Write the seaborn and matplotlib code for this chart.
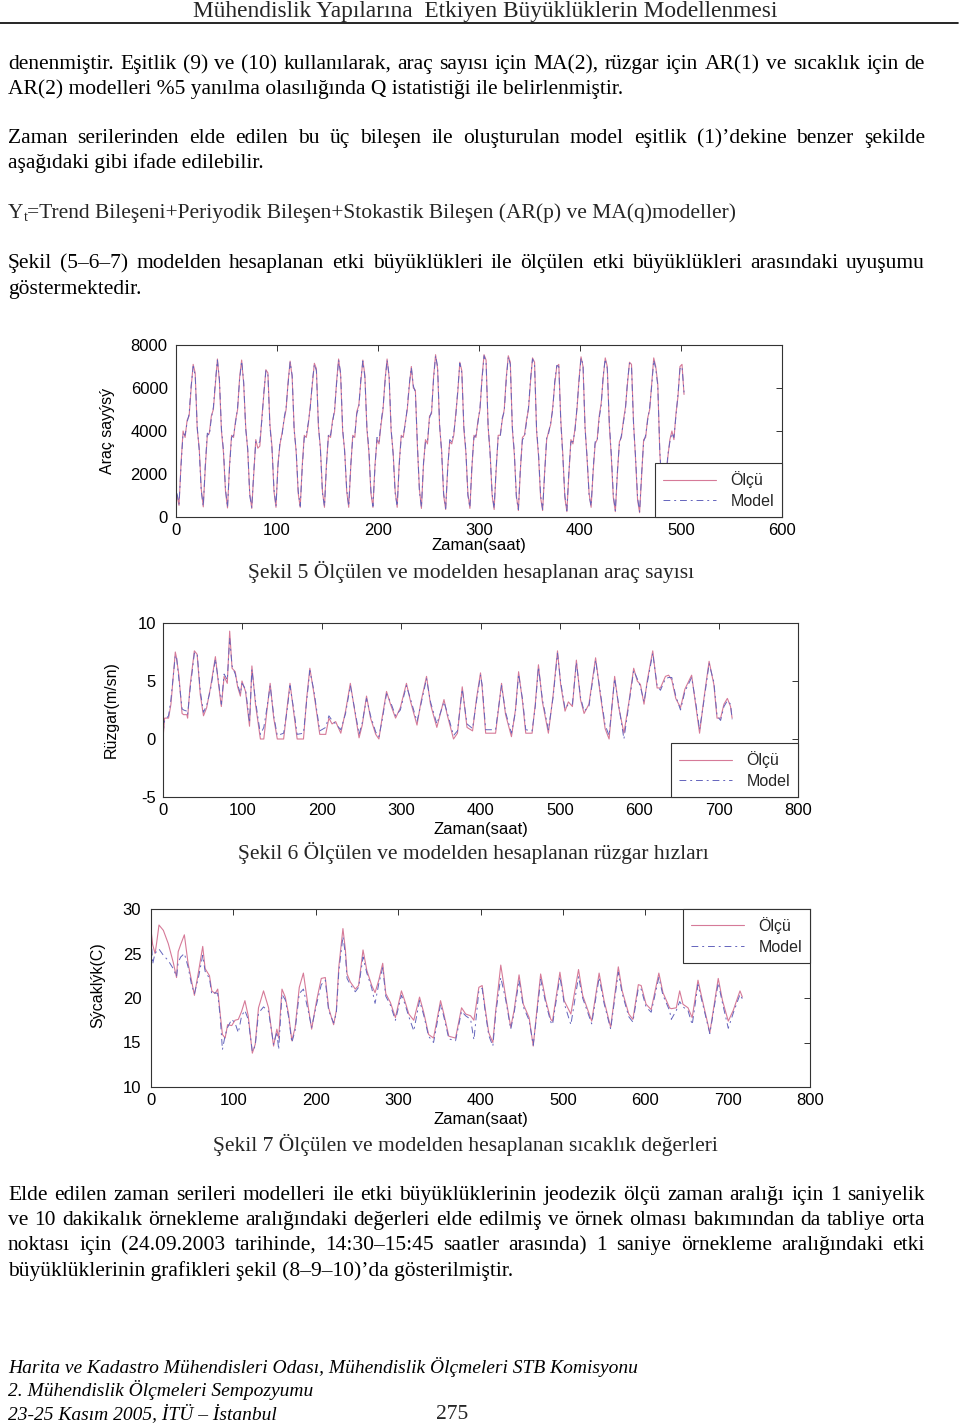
import numpy as np
import pandas as pd
import matplotlib
matplotlib.use("Agg")
import matplotlib.pyplot as plt
import seaborn as sns

# ---------------- data read from the page ----------------
# Sekil 5: vehicle count, sampled every 2 h (hours 1, 3, ..., 503), one row per day
traffic_hours = np.arange(1, 504, 2)
traffic_measured = [
    1000, 540, 2500, 4000, 3700, 4500, 4700, 6000, 7100, 6700, 4100, 3200,
    1300, 470, 2300, 3800, 3900, 4700, 5000, 6200, 7350, 6300, 4000, 3000,
    1200, 420, 2400, 3800, 3700, 4500, 5000, 6500, 7300, 6200, 4200, 3100,
    1100, 400, 2000, 3600, 3200, 3300, 4600, 5700, 6850, 6700, 4300, 3300,
    1200, 450, 2500, 3400, 3900, 4500, 5000, 6300, 7250, 6500, 4100, 3000,
    1100, 450, 2400, 3800, 3700, 4300, 5200, 6200, 7150, 6900, 4200, 3200,
    1200, 450, 2500, 3800, 3700, 4500, 4900, 6300, 7350, 6600, 4000, 3100,
    1200, 450, 2300, 3800, 3700, 4900, 5200, 6300, 7300, 6600, 4100, 3000,
    1100, 450, 2400, 3600, 3400, 4300, 5000, 6400, 7350, 6500, 4000, 3000,
    1200, 450, 2500, 3800, 3700, 4400, 5000, 6100, 7000, 6000, 5900, 3300,
    1300, 400, 2400, 3600, 3400, 4700, 4800, 6500, 7550, 6900, 4200, 3100,
    1000, 350, 2300, 3500, 3400, 3800, 4800, 5800, 7200, 6800, 4100, 3000,
    1100, 400, 2300, 3800, 3700, 4500, 5000, 6500, 7550, 7300, 4200, 3000,
    1000, 350, 2200, 3800, 3800, 4500, 5000, 6500, 7500, 7200, 4100, 2900,
    1000, 300, 2200, 3700, 3800, 4500, 5000, 6300, 7400, 7200, 4000, 2800,
    900, 300, 2100, 3600, 4000, 4300, 5100, 6200, 7000, 7100, 4500, 2900,
    900, 250, 2000, 3600, 3400, 4100, 5000, 6400, 7450, 7000, 4200, 2700,
    1100, 450, 2100, 3400, 3600, 4700, 5300, 6500, 7400, 7000, 4300, 2800,
    900, 250, 2000, 3500, 3700, 4500, 5100, 6200, 7200, 7100, 4400, 2700,
    800, 200, 1900, 3600, 3700, 4600, 5000, 6200, 7400, 7000, 6200, 3000,
    1500, 600, 1700, 2800, 3600, 4000, 3600, 4800, 5600, 7000, 7100, 5700,
]
traffic_model = [
    1100, 600, 2400, 3900, 3800, 4400, 4800, 6100, 7000, 6600, 4200, 3100,
    1200, 500, 2400, 3900, 3800, 4600, 5100, 6300, 7300, 6400, 4100, 3100,
    1300, 450, 2300, 3700, 3800, 4400, 5100, 6400, 7250, 6300, 4100, 3200,
    1000, 450, 2100, 3500, 3400, 3500, 4500, 5800, 6800, 6600, 4200, 3200,
    1300, 500, 2400, 3500, 3800, 4600, 5100, 6200, 7200, 6600, 4000, 3100,
    1200, 500, 2300, 3700, 3800, 4400, 5100, 6300, 7100, 6800, 4300, 3100,
    1100, 500, 2400, 3900, 3800, 4400, 5000, 6200, 7300, 6700, 4100, 3000,
    1300, 500, 2400, 3700, 3800, 4800, 5100, 6400, 7250, 6500, 4200, 3100,
    1200, 500, 2300, 3700, 3500, 4400, 5100, 6300, 7300, 6600, 4100, 2900,
    1100, 500, 2400, 3700, 3800, 4300, 5100, 6200, 6950, 6100, 5800, 3400,
    1200, 450, 2500, 3500, 3500, 4600, 4900, 6400, 7500, 7000, 4300, 3000,
    1100, 400, 2200, 3600, 3500, 3900, 4700, 5900, 7150, 6700, 4200, 3100,
    1000, 450, 2400, 3700, 3800, 4400, 5100, 6400, 7500, 7200, 4300, 2900,
    1100, 400, 2300, 3700, 3700, 4600, 4900, 6400, 7450, 7100, 4200, 3000,
    900, 350, 2300, 3600, 3700, 4400, 5100, 6400, 7350, 7100, 4100, 2900,
    1000, 350, 2000, 3700, 3900, 4400, 5000, 6300, 7050, 7000, 4400, 2800,
    1000, 300, 2100, 3500, 3500, 4000, 5100, 6300, 7400, 7100, 4100, 2800,
    1000, 500, 2200, 3500, 3500, 4600, 5200, 6600, 7350, 6900, 4400, 2900,
    1000, 300, 2100, 3400, 3800, 4400, 5000, 6300, 7150, 7000, 4300, 2800,
    900, 250, 2000, 3500, 3800, 4500, 5100, 6100, 7300, 6900, 6100, 3100,
    1400, 650, 1800, 2900, 3500, 3900, 3700, 4700, 5700, 6900, 7000, 5800,
]

# Sekil 6: wind speed, key points (hour, m/s)
wind_hours = [
    0, 2, 7, 10, 15.5, 17, 20, 24, 26, 30, 31, 34, 39.5, 43, 47, 51, 55, 60, 66, 70,
    73.5, 77, 81, 84, 87, 91, 94, 97.5, 99.5, 104, 109, 112, 116.5, 122.7, 127, 131,
    135, 139.5, 144, 152, 156, 160, 165, 169, 177, 181, 185, 190, 197.5, 205, 209,
    213, 217.5, 224, 230, 236, 243, 247, 251, 256.4, 261.5, 268, 272, 276, 281.6,
    286.6, 293, 299, 306.7, 312, 320, 325, 332, 337, 345, 354, 358, 366, 371, 377,
    383, 390, 395, 400, 402, 406.5, 419, 426.5, 431.6, 439, 444, 448, 453, 457, 465,
    469, 473, 478, 485.5, 491.5, 497, 501, 506.5, 510.7, 515.8, 520.8, 526, 530.5,
    536.6, 545, 551, 557, 562, 569, 574, 580.7, 587, 593, 597.5, 601.5, 606, 610,
    617, 622.5, 626.7, 633, 637, 641, 646, 652, 657.5, 666, 671, 676, 681.5, 688,
    694, 698, 702.5, 706.7, 711, 715, 717,
]
wind_measured = [
    0.0, 1.8, 1.8, 3.0, 7.5, 7.0, 5.5, 2.2, 2.1, 2.1, 1.8, 4.5, 7.6, 7.3, 3.8, 2.0, 2.7, 4.5, 7.1, 4.7,
    2.8, 5.4, 4.8, 9.3, 6.1, 5.8, 4.5, 3.7, 5.0, 4.1, 1.1, 6.3, 3.0, 0.0, 0.0, 2.5,
    4.8, 1.8, 0.0, 0.0, 2.5, 4.8, 2.1, 0.0, 0.0, 3.5, 6.1, 4.0, 0.4, 0.4, 1.8,
    1.3, 1.5, 0.5, 2.4, 4.8, 1.8, 0.1, 1.2, 3.7, 1.8, 0.4, 0.0, 1.8, 4.1,
    3.0, 1.8, 2.7, 4.8, 3.2, 1.2, 3.2, 5.4, 3.0, 1.0, 3.4, 2.1, 0.0, 0.5, 4.5,
    1.0, 0.7, 3.5, 5.7, 4.5, 0.5, 0.5, 4.8, 2.1, 0.2, 2.5, 5.8, 3.2, 0.5, 0.5,
    3.0, 6.4, 3.2, 0.5, 3.8, 7.6, 4.7, 2.4, 3.2, 2.8, 6.8, 3.4, 2.2,
    3.0, 7.0, 3.8, 0.9, 0.0, 5.4, 2.8, 0.5, 3.2, 6.1, 5.0, 4.7, 3.0, 5.0,
    7.6, 4.4, 4.4, 5.4, 5.5, 5.1, 3.5, 2.7, 4.3, 5.5, 3.0, 0.5, 3.5, 6.7,
    4.7, 1.8, 1.8, 3.0, 3.5, 2.8, 1.8,
]
wind_model = [
    0.5, 1.6, 2.0, 3.4, 7.2, 7.1, 5.2, 2.6, 2.5, 2.4, 2.1, 4.2, 7.4, 7.4, 4.1, 2.3, 2.9, 4.3, 6.9, 4.9,
    3.0, 5.6, 5.1, 8.7, 6.3, 5.6, 4.7, 3.9, 4.8, 4.3, 1.4, 6.0, 3.3, 0.4, 1.0, 2.7,
    4.6, 2.0, 0.3, 0.5, 2.3, 4.6, 2.4, 0.4, 0.5, 3.3, 5.9, 4.2, 0.7, 1.0, 2.0,
    1.6, 1.3, 0.8, 2.2, 4.6, 2.0, 0.4, 1.4, 3.5, 2.0, 0.6, 0.2, 1.6, 3.9,
    3.2, 2.0, 2.5, 4.6, 3.4, 1.5, 3.0, 5.2, 3.2, 1.3, 3.2, 2.3, 0.3, 0.7, 4.3,
    1.3, 0.9, 3.3, 5.5, 4.7, 0.8, 0.8, 4.6, 2.3, 0.5, 2.3, 5.6, 3.4, 0.8, 0.7,
    2.8, 6.2, 3.4, 0.8, 3.6, 7.4, 4.9, 2.6, 3.0, 3.0, 6.6, 3.6, 2.4,
    2.8, 6.8, 4.0, 1.2, 0.3, 5.2, 3.0, 0.0, 3.0, 5.9, 5.2, 4.5, 3.2, 4.8,
    7.4, 4.6, 4.2, 5.2, 5.3, 5.3, 3.7, 2.5, 4.1, 5.3, 3.2, 0.8, 3.3, 6.5,
    4.9, 2.0, 1.6, 2.8, 3.3, 3.0, 1.7,
]

# Sekil 7: temperature, key points (hour, C)
temp_hours = [
    0, 2, 5, 7, 9.7, 15, 21, 27, 31, 33, 36, 40.5, 45, 49, 52.7, 57.6, 62.8, 65.7, 71, 73.8,
    77.8, 81, 84, 86.7, 90, 93, 98, 102, 106, 110, 114, 118, 123, 126.5, 130.5, 136.6,
    142.7, 148.8, 152.8, 155, 159, 163, 167, 171, 175, 180, 185, 191, 195, 201, 206.7,
    211.6, 215.6, 221.7, 225, 228, 233, 236, 238, 242, 248, 252, 257.4, 262, 268, 272,
    276.5, 281.3, 285, 290.6, 296.7, 304, 308, 313, 319, 326, 331, 337, 343, 351.5,
    355.5, 361.6, 369.7, 377, 382, 388, 392, 398, 402, 406, 410, 415, 418.5, 424.6,
    430.6, 436.7, 440.8, 446.8, 452, 459, 464, 468, 473, 479.3, 485.3, 487.4, 496.4,
    501.6, 509.7, 519, 524, 532, 535, 544, 550, 558, 567.3, 572, 580, 585, 591.6, 595,
    601, 607.2, 616.5, 621.5, 629.5, 631.6, 637.7, 641.8, 645.8, 651.9, 657, 664, 669.5,
    678.4, 688.6, 693.8, 700.8, 706.8, 715, 717.9,
]
temp_measured = [
    27.7, 26.0, 25.0, 26.3, 28.2, 27.6, 26.1, 24.0, 22.3, 25.2, 26.0, 27.1, 23.9, 22.0, 20.3, 22.9, 25.8, 23.3, 22.5, 20.8,
    20.5, 21.0, 18.2, 15.9, 15.5, 17.0, 16.9, 17.5, 17.6, 18.5, 19.7, 18.0, 13.8, 14.8, 18.9, 20.8,
    18.9, 14.6, 16.5, 15.5, 21.0, 20.1, 18.2, 15.2, 16.7, 21.2, 22.8, 18.9, 16.5, 19.7, 22.2,
    22.3, 18.9, 17.0, 18.6, 23.5, 27.8, 25.4, 22.7, 21.8, 21.0, 21.4, 25.4, 23.1, 21.4, 20.6,
    22.0, 23.9, 20.5, 19.5, 17.8, 20.8, 19.7, 18.2, 17.5, 20.1, 18.4, 15.9, 15.5, 19.7,
    18.2, 15.7, 15.5, 18.9, 18.2, 18.0, 17.5, 21.2, 21.4, 18.6, 16.1, 15.0, 18.6, 23.7,
    20.1, 16.7, 18.6, 22.6, 19.3, 17.8, 14.6, 18.2, 22.7, 19.7, 17.6, 17.4, 22.9,
    19.7, 18.2, 23.2, 20.3, 18.2, 17.4, 22.8, 19.7, 16.7, 23.5, 20.8, 18.2, 17.6, 21.5, 21.4,
    19.3, 18.7, 22.8, 20.6, 18.9, 18.8, 18.9, 20.8, 19.3, 18.9, 17.8, 22.0, 19.7,
    16.1, 22.2, 19.7, 17.4, 18.6, 20.8, 20.1,
]
temp_model = [
    27.4, 23.8, 25.1, 25.2, 25.5, 24.8, 24.2, 23.3, 22.4, 24.0, 24.6, 25.0, 23.5, 21.6, 20.5, 22.3, 24.8, 23.0, 22.2, 20.4,
    20.6, 20.5, 17.9, 14.2, 15.8, 16.7, 17.6, 17.2, 16.1, 18.0, 18.6, 17.6, 14.0, 14.6, 18.3, 19.0,
    18.5, 14.8, 16.2, 14.2, 20.4, 19.8, 17.9, 15.0, 16.4, 20.5, 21.0, 18.5, 16.7, 19.3, 21.5,
    22.0, 18.6, 17.2, 18.3, 23.0, 26.9, 24.9, 22.2, 21.5, 20.7, 21.2, 24.6, 22.8, 21.1, 19.4,
    21.6, 23.4, 20.2, 19.2, 17.5, 20.3, 19.4, 17.9, 16.3, 19.7, 18.1, 15.7, 15.0, 19.3,
    17.9, 15.4, 15.2, 18.5, 18.0, 17.6, 15.3, 20.8, 21.1, 18.3, 15.8, 14.6, 18.3, 22.3,
    19.8, 16.5, 18.3, 22.0, 19.0, 17.5, 14.7, 17.9, 22.1, 19.4, 17.3, 17.0, 22.4,
    19.4, 17.0, 22.4, 20.0, 17.9, 17.1, 22.3, 19.4, 16.5, 22.9, 20.5, 17.9, 17.3, 21.1, 21.0,
    19.0, 18.4, 22.3, 20.3, 18.6, 17.6, 18.6, 19.6, 19.0, 18.6, 17.0, 21.5, 19.4,
    16.0, 21.7, 19.4, 16.6, 18.3, 20.4, 19.9,
]

# ---------------- page ----------------
W, H = 960, 1427
sns.set_theme(style="white")
plt.rcParams["font.family"] = ["Liberation Sans", "DejaVu Sans"]
plt.rcParams["axes.linewidth"] = 0.8
plt.rcParams["axes.unicode_minus"] = False

fig = plt.figure(figsize=(W / 100, H / 100), dpi=100)
fig.patch.set_facecolor("white")
renderer = fig.canvas.get_renderer()

SERIF = ["Liberation Serif", "DejaVu Serif"]
BODY = 15.5
FOOT = 14.0
BASE = 6  # baseline sits this many px below the visual line centre


def fy(y):
    return 1 - y / H


def put_line(text, y, justify=False, x0=8, x1=925, size=BODY, style="normal"):
    yb = fy(y + BASE)
    if not justify:
        fig.text(x0 / W, yb, text, fontsize=size, family=SERIF, style=style,
                 va="baseline", ha="left", color="black")
        return
    words = text.split(" ")
    objs = [fig.text(0, yb, w, fontsize=size, family=SERIF, style=style,
                     va="baseline", ha="left", color="black") for w in words]
    widths = [o.get_window_extent(renderer).width for o in objs]
    gap = (x1 - x0 - sum(widths)) / (len(words) - 1)
    x = x0
    for o, w in zip(objs, widths):
        o.set_x(x / W)
        x += w + gap


# header
fig.text(485 / W, fy(11 + BASE), "Mühendislik Yapılarına  Etkiyen Büyüklüklerin Modellenmesi",
         fontsize=16.8, family=SERIF, ha="center", va="baseline")
fig.add_artist(plt.Line2D([0, 958 / W], [fy(23), fy(23)], color="black", lw=1.2))

put_line("denenmiştir. Eşitlik (9) ve (10) kullanılarak, araç sayısı için MA(2), rüzgar için AR(1) ve sıcaklık için de", 63, True)
put_line("AR(2) modelleri %5 yanılma olasılığında Q istatistiği ile belirlenmiştir.", 88)
put_line("Zaman serilerinden elde edilen bu üç bileşen ile oluşturulan model eşitlik (1)’dekine benzer şekilde", 137, True)
put_line("aşağıdaki gibi ifade edilebilir.", 162)

# formula line with subscript
ty = fig.text(8 / W, fy(212 + BASE), "Y", fontsize=BODY, family=SERIF, va="baseline")
wy = ty.get_window_extent(renderer).width
tt = fig.text((8 + wy) / W, fy(212 + BASE + 3), "t", fontsize=BODY * 0.65, family=SERIF,
              va="baseline")
wt = tt.get_window_extent(renderer).width
fig.text((8 + wy + wt) / W, fy(212 + BASE),
         "=Trend Bileşeni+Periyodik Bileşen+Stokastik Bileşen (AR(p) ve MA(q)modeller)",
         fontsize=BODY, family=SERIF, va="baseline")

put_line("Şekil (5–6–7) modelden hesaplanan etki büyüklükleri ile ölçülen etki büyüklükleri arasındaki uyuşumu", 262, True)
put_line("göstermektedir.", 288)

put_line("Elde edilen zaman serileri modelleri ile etki büyüklüklerinin jeodezik ölçü zaman aralığı için 1 saniyelik", 1194, True)
put_line("ve 10 dakikalık örnekleme aralığındaki değerleri elde edilmiş ve örnek olması bakımından da tabliye orta", 1219, True)
put_line("noktası için (24.09.2003 tarihinde, 14:30–15:45 saatler arasında) 1 saniye örnekleme aralığındaki etki", 1244, True)
put_line("büyüklüklerinin grafikleri şekil (8–9–10)’da gösterilmiştir.", 1270)

put_line("Harita ve Kadastro Mühendisleri Odası, Mühendislik Ölçmeleri STB Komisyonu", 1367, size=FOOT, style="italic")
put_line("2. Mühendislik Ölçmeleri Sempozyumu", 1390, size=FOOT, style="italic")
put_line("23-25 Kasım 2005, İTÜ – İstanbul", 1413, size=FOOT, style="italic")
fig.text(452 / W, fy(1413 + BASE), "275", fontsize=BODY, family=SERIF, ha="center", va="baseline")

# ---------------- charts ----------------
MEAS_C = "#d67a98"
MODEL_C = "#6464bc"
EDGE = "#333333"


def chart(box, hours_m, meas, model, xmax, ylim, yticks, ylabel, ylab_x, ylab_y,
          xlab_y, ypad, legend_loc, caption, cap_x, cap_y):
    left, right, top, bottom = box
    ax = fig.add_axes([left / W, 1 - bottom / H, (right - left) / W, (bottom - top) / H])
    df = pd.DataFrame({"saat": hours_m, "olcu": meas, "model": model})
    sns.lineplot(data=df, x="saat", y="olcu", ax=ax, color=MEAS_C, lw=0.8,
                 estimator=None, label="Ölçü")
    sns.lineplot(data=df, x="saat", y="model", ax=ax, color=MODEL_C, lw=0.7,
                 estimator=None, label="Model", linestyle=(0, (7, 4, 2, 4)))
    ax.set_xlim(0, xmax)
    ax.set_ylim(*ylim)
    ax.set_xticks(np.arange(0, xmax + 1, 100))
    ax.set_yticks(yticks)
    ax.tick_params(direction="in", length=4, width=0.7, colors=EDGE, labelcolor="black",
                   labelsize=12, top=True, right=True)
    ax.tick_params(axis="x", pad=4)
    ax.tick_params(axis="y", pad=ypad)
    for s in ax.spines.values():
        s.set_color(EDGE)
        s.set_linewidth(0.8)
        s.set_visible(True)
    ax.set_xlabel("Zaman(saat)", fontsize=12, color="black")
    ax.set_ylabel(ylabel, fontsize=11.5, color="black")
    ax.xaxis.set_label_coords(0.5, xlab_y)
    ax.yaxis.set_label_coords(ylab_x, ylab_y)
    leg = ax.legend(loc=legend_loc, frameon=True, fancybox=False, framealpha=1,
                    edgecolor=EDGE, borderaxespad=0, handlelength=3.3,
                    handletextpad=0.9, fontsize=11.5, borderpad=0.5, labelspacing=0.35)
    leg.get_frame().set_linewidth(0.8)
    fig.text(cap_x / W, fy(cap_y + BASE), caption, fontsize=BODY, family=SERIF,
             ha="center", va="baseline")
    return ax


chart((176, 782, 345, 517), traffic_hours, traffic_measured, traffic_model, 600,
      (0, 8000), [0, 2000, 4000, 6000, 8000], "Araç sayýsý", -0.101, 0.5, -0.122, 6,
      "lower right", "Şekil 5 Ölçülen ve modelden hesaplanan araç sayısı", 471, 572)

chart((163, 798, 623, 797), wind_hours, wind_measured, wind_model, 800,
      (-5, 10), [-5, 0, 5, 10], "Rüzgar(m/sn)", -0.069, 0.5, -0.144, 5,
      "lower right", "Şekil 6 Ölçülen ve modelden hesaplanan rüzgar hızları", 473, 853)

chart((151, 810, 909, 1087), temp_hours, temp_measured, temp_model, 800,
      (10, 30), [10, 15, 20, 25, 30], "Sýcaklýk(C)", -0.070, 0.573, -0.140, 7,
      "upper right", "Şekil 7 Ölçülen ve modelden hesaplanan sıcaklık değerleri", 465, 1145)

fig.savefig("out.png", dpi=100, facecolor="white")
